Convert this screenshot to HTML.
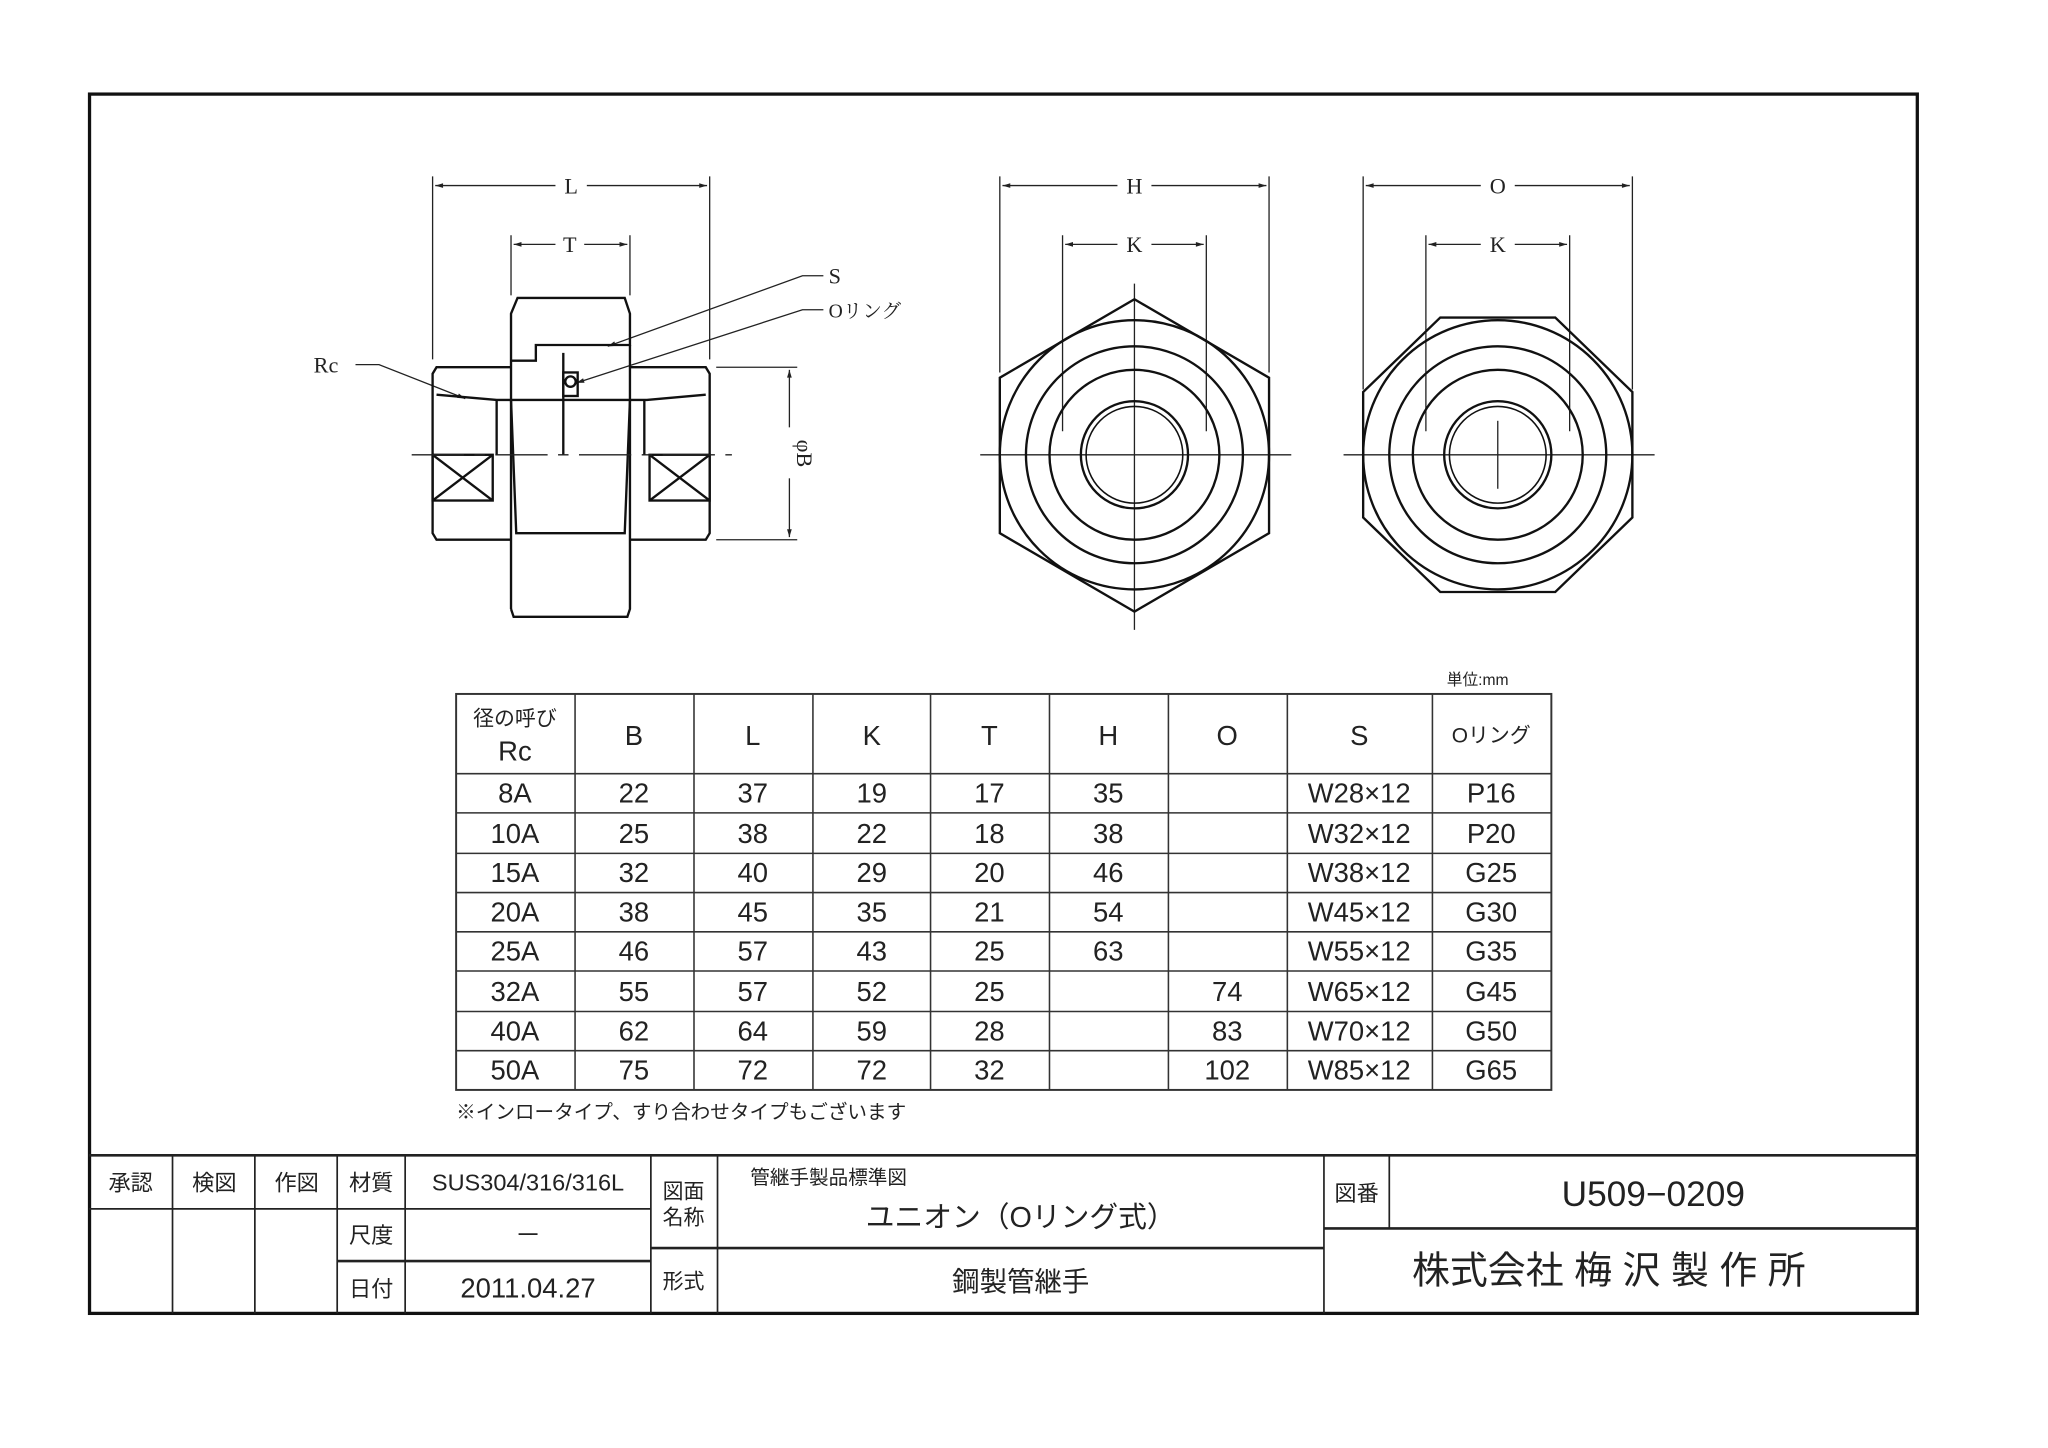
<!DOCTYPE html>
<html><head><meta charset="utf-8"><style>
html,body{margin:0;padding:0;background:#fff;}
svg{display:block;}
text{font-family:"Liberation Sans","Noto Sans CJK JP",sans-serif;fill:#222;}
.s{font-family:"Liberation Serif","Noto Serif CJK SC",serif;}
</style></head><body>
<svg width="2048" height="1448" viewBox="0 0 1567 1108" preserveAspectRatio="none" xmlns="http://www.w3.org/2000/svg">
<defs>
<marker id="a" viewBox="0 0 10 10" refX="10" refY="5" markerWidth="10" markerHeight="6" orient="auto-start-reverse" markerUnits="userSpaceOnUse"><path d="M0,2 L10,5 L0,8 Z" fill="#222"/></marker>
</defs>
<rect width="1567" height="1108" fill="#fff"/>
<rect x="68.5" y="72" width="1398.5" height="933" fill="none" stroke="#111" stroke-width="2.5"/>

<!-- ===== side view ===== -->
<g stroke="#222" fill="none" stroke-width="1">
 <line x1="331" y1="135" x2="331" y2="275"/><line x1="543" y1="135" x2="543" y2="275"/>
 <line x1="333" y1="142" x2="425" y2="142" marker-start="url(#a)"/><line x1="449" y1="142" x2="541" y2="142" marker-end="url(#a)"/>
 <line x1="391" y1="180" x2="391" y2="226"/><line x1="482" y1="180" x2="482" y2="226"/>
 <line x1="393" y1="187" x2="425" y2="187" marker-start="url(#a)"/><line x1="447" y1="187" x2="480" y2="187" marker-end="url(#a)"/>
 <line x1="548" y1="281" x2="610" y2="281"/><line x1="548" y1="413" x2="610" y2="413"/>
 <line x1="604" y1="283" x2="604" y2="327" marker-start="url(#a)"/><line x1="604" y1="366" x2="604" y2="411" marker-end="url(#a)"/>
 <polyline points="272,279 290,279 356,305" marker-end="url(#a)"/>
 <polyline points="630,211 614,211 465,265" marker-end="url(#a)"/>
 <polyline points="630,237 614,237 441,293" marker-end="url(#a)"/>
</g>
<g stroke="#111" fill="none" stroke-width="1.8">
 <!-- body left/right -->
 <path d="M391,281 L334,281 L331,286 L331,408 L334,413 L391,413"/>
 <path d="M482,281 L540,281 L543,286 L543,408 L540,413 L482,413"/>
 <!-- nut -->
 <path d="M391,466 L391,240 L396,228 L478,228 L482,240 L482,264 L410,264 L410,276 L391,276"/>
 <path d="M482,264 L482,466 L480,472 L393,472 L391,466"/>
 <path d="M391,306 L395,408 L478,408 L482,306"/>
 <!-- inner -->
 <path d="M334,302 L380,306 L495,306 L540,302"/>
 <line x1="380" y1="306" x2="380" y2="348"/><line x1="493" y1="306" x2="493" y2="348"/>
 <line x1="431" y1="270" x2="431" y2="348"/>
 <rect x="431" y="285" width="11" height="18"/>
 <circle cx="436.5" cy="292" r="4"/>
 <rect x="331" y="348" width="46" height="35"/><line x1="331" y1="348" x2="377" y2="383"/><line x1="377" y1="348" x2="331" y2="383"/>
 <rect x="497" y="348" width="46" height="35"/><line x1="497" y1="348" x2="543" y2="383"/><line x1="543" y1="348" x2="497" y2="383"/>
</g>
<line x1="315" y1="348" x2="560" y2="348" stroke="#222" stroke-width="1" stroke-dasharray="40,8,8,8"/>
<text class="s" x="437" y="148" font-size="17" text-anchor="middle">L</text>
<text class="s" x="436" y="193" font-size="17" text-anchor="middle">T</text>
<text class="s" x="634" y="217" font-size="17">S</text>
<text class="s" x="634" y="243" font-size="15">Oリング</text>
<text class="s" x="240" y="285" font-size="17">Rc</text>
<text class="s" font-size="17" text-anchor="middle" transform="translate(610,347) rotate(90)">φB</text>

<!-- ===== hex view ===== -->
<g stroke="#222" fill="none" stroke-width="1">
 <line x1="765" y1="135" x2="765" y2="285"/><line x1="971" y1="135" x2="971" y2="285"/>
 <line x1="767" y1="142" x2="855" y2="142" marker-start="url(#a)"/><line x1="881" y1="142" x2="969" y2="142" marker-end="url(#a)"/>
 <line x1="813" y1="180" x2="813" y2="330"/><line x1="923" y1="180" x2="923" y2="330"/>
 <line x1="815" y1="187" x2="855" y2="187" marker-start="url(#a)"/><line x1="881" y1="187" x2="921" y2="187" marker-end="url(#a)"/>
 <line x1="1043" y1="135" x2="1043" y2="298"/><line x1="1249" y1="135" x2="1249" y2="298"/>
 <line x1="1045" y1="142" x2="1133" y2="142" marker-start="url(#a)"/><line x1="1159" y1="142" x2="1247" y2="142" marker-end="url(#a)"/>
 <line x1="1091" y1="180" x2="1091" y2="330"/><line x1="1201" y1="180" x2="1201" y2="330"/>
 <line x1="1093" y1="187" x2="1133" y2="187" marker-start="url(#a)"/><line x1="1159" y1="187" x2="1199" y2="187" marker-end="url(#a)"/>
 <line x1="750" y1="348" x2="988" y2="348"/><line x1="868" y1="217" x2="868" y2="482"/>
 <line x1="1028" y1="348" x2="1266" y2="348"/><line x1="1146" y1="322" x2="1146" y2="374"/>
</g>
<g stroke="#111" fill="none" stroke-width="1.8">
 <polygon points="868,229 971,289 971,408 868,468 765,408 765,289"/>
 <circle cx="868" cy="348" r="103"/><circle cx="868" cy="348" r="83"/><circle cx="868" cy="348" r="65"/>
 <circle cx="868" cy="348" r="41"/><circle cx="868" cy="348" r="37" stroke-width="1.2"/>
 <polygon points="1102,243 1190,243 1249,300 1249,396 1190,453 1102,453 1043,396 1043,300"/>
 <circle cx="1146" cy="348" r="103"/><circle cx="1146" cy="348" r="83"/><circle cx="1146" cy="348" r="65"/>
 <circle cx="1146" cy="348" r="41"/><circle cx="1146" cy="348" r="37" stroke-width="1.2"/>
</g>
<text class="s" x="868" y="148" font-size="17" text-anchor="middle">H</text>
<text class="s" x="868" y="193" font-size="17" text-anchor="middle">K</text>
<text class="s" x="1146" y="148" font-size="17" text-anchor="middle">O</text>
<text class="s" x="1146" y="193" font-size="17" text-anchor="middle">K</text>

<!-- ===== table ===== -->
<text x="1107" y="524" font-size="12">単位:mm</text>
<g stroke="#333" stroke-width="1.2" fill="none">
 <rect x="349" y="531" width="838" height="303" stroke-width="1.5"/>
 <line x1="440" y1="531" x2="440" y2="834"/><line x1="531" y1="531" x2="531" y2="834"/>
 <line x1="622" y1="531" x2="622" y2="834"/><line x1="712" y1="531" x2="712" y2="834"/>
 <line x1="803" y1="531" x2="803" y2="834"/><line x1="894" y1="531" x2="894" y2="834"/>
 <line x1="985" y1="531" x2="985" y2="834"/><line x1="1096" y1="531" x2="1096" y2="834"/>
 <line x1="349" y1="592" x2="1187" y2="592"/><line x1="349" y1="622" x2="1187" y2="622"/>
 <line x1="349" y1="653" x2="1187" y2="653"/><line x1="349" y1="683" x2="1187" y2="683"/>
 <line x1="349" y1="713" x2="1187" y2="713"/><line x1="349" y1="743" x2="1187" y2="743"/>
 <line x1="349" y1="774" x2="1187" y2="774"/><line x1="349" y1="804" x2="1187" y2="804"/>
</g>
<g font-size="21" text-anchor="middle">
 <text x="394" y="555" font-size="16">径の呼び</text><text x="394" y="582">Rc</text>
 <text x="485" y="570">B</text><text x="576" y="570">L</text><text x="667" y="570">K</text>
 <text x="757" y="570">T</text><text x="848" y="570">H</text><text x="939" y="570">O</text>
 <text x="1040" y="570">S</text><text x="1141" y="568" font-size="16">Oリング</text>
</g>
<g font-size="21" text-anchor="middle">
 <g transform="translate(0,614)"><text x="394">8A</text><text x="485">22</text><text x="576">37</text><text x="667">19</text><text x="757">17</text><text x="848">35</text><text x="1040">W28×12</text><text x="1141">P16</text></g>
 <g transform="translate(0,645)"><text x="394">10A</text><text x="485">25</text><text x="576">38</text><text x="667">22</text><text x="757">18</text><text x="848">38</text><text x="1040">W32×12</text><text x="1141">P20</text></g>
 <g transform="translate(0,675)"><text x="394">15A</text><text x="485">32</text><text x="576">40</text><text x="667">29</text><text x="757">20</text><text x="848">46</text><text x="1040">W38×12</text><text x="1141">G25</text></g>
 <g transform="translate(0,705)"><text x="394">20A</text><text x="485">38</text><text x="576">45</text><text x="667">35</text><text x="757">21</text><text x="848">54</text><text x="1040">W45×12</text><text x="1141">G30</text></g>
 <g transform="translate(0,735)"><text x="394">25A</text><text x="485">46</text><text x="576">57</text><text x="667">43</text><text x="757">25</text><text x="848">63</text><text x="1040">W55×12</text><text x="1141">G35</text></g>
 <g transform="translate(0,766)"><text x="394">32A</text><text x="485">55</text><text x="576">57</text><text x="667">52</text><text x="757">25</text><text x="939">74</text><text x="1040">W65×12</text><text x="1141">G45</text></g>
 <g transform="translate(0,796)"><text x="394">40A</text><text x="485">62</text><text x="576">64</text><text x="667">59</text><text x="757">28</text><text x="939">83</text><text x="1040">W70×12</text><text x="1141">G50</text></g>
 <g transform="translate(0,826)"><text x="394">50A</text><text x="485">75</text><text x="576">72</text><text x="667">72</text><text x="757">32</text><text x="939">102</text><text x="1040">W85×12</text><text x="1141">G65</text></g>
</g>
<text x="349" y="856" font-size="15">※インロータイプ、すり合わせタイプもございます</text>

<!-- ===== title block ===== -->
<g stroke="#222" stroke-width="1.3" fill="none">
 <line x1="68" y1="884" x2="1467" y2="884" stroke-width="2"/>
 <line x1="132" y1="884" x2="132" y2="1005"/><line x1="195" y1="884" x2="195" y2="1005"/>
 <line x1="258" y1="884" x2="258" y2="1005"/><line x1="310" y1="884" x2="310" y2="1005"/>
 <line x1="498" y1="884" x2="498" y2="1005"/><line x1="549" y1="884" x2="549" y2="1005"/>
 <line x1="1013" y1="884" x2="1013" y2="1005"/><line x1="1063" y1="884" x2="1063" y2="940"/>
 <line x1="68" y1="925" x2="258" y2="925"/><line x1="258" y1="925" x2="498" y2="925"/>
 <line x1="258" y1="965" x2="498" y2="965" stroke-width="2"/>
 <line x1="498" y1="955" x2="1013" y2="955" stroke-width="2"/>
 <line x1="1013" y1="940" x2="1467" y2="940" stroke-width="2"/>
</g>
<g font-size="17" text-anchor="middle">
 <text x="100" y="911">承認</text><text x="164" y="911">検図</text><text x="227" y="911">作図</text>
 <text x="284" y="911">材質</text><text x="404" y="911" font-size="18">SUS304/316/316L</text>
 <text x="284" y="951">尺度</text><text x="404" y="952" font-size="20">－</text>
 <text x="284" y="992">日付</text><text x="404" y="993" font-size="21">2011.04.27</text>
 <text x="523" y="917" font-size="16">図面</text><text x="523" y="937" font-size="16">名称</text>
 <text x="523" y="986" font-size="16">形式</text>
 <text x="634" y="906" font-size="15">管継手製品標準図</text>
 <text x="781" y="939" font-size="22">ユニオン（Oリング式）</text>
 <text x="781" y="988" font-size="21">鋼製管継手</text>
 <text x="1038" y="919">図番</text>
 <text x="1265" y="923" font-size="27">U509−0209</text>
 <text x="1231" y="982" font-size="29">株式会社 梅 沢 製 作 所</text>
</g>
</svg>
</body></html>
